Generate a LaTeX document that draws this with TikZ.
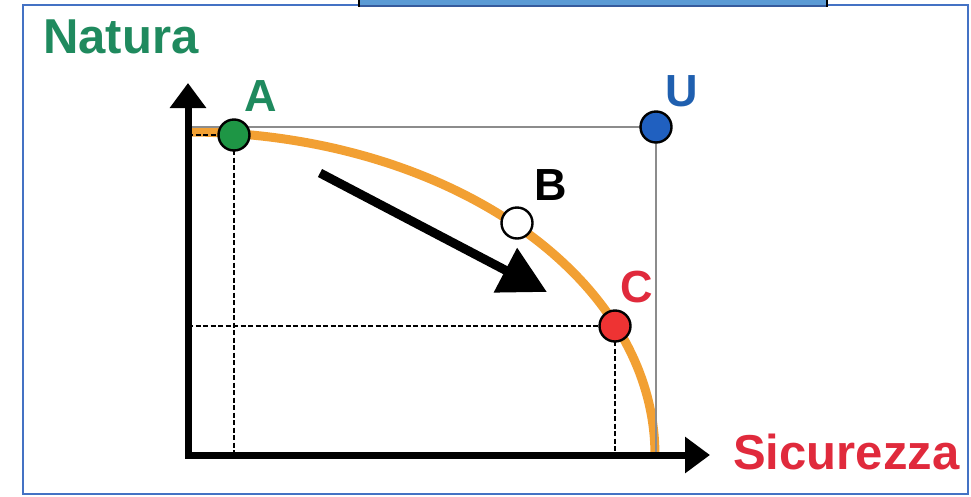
\documentclass[tikz,border=0pt]{standalone}
\usepackage{fontspec}
\setmainfont{Liberation Sans}
\usetikzlibrary{arrows.meta}
\definecolor{frameblue}{HTML}{4472C4}
\definecolor{tabblue}{HTML}{5B9BD5}
\definecolor{natgreen}{HTML}{1F8A5E}
\definecolor{dotgreen}{HTML}{1E9645}
\definecolor{ublue}{HTML}{1F5FAF}
\definecolor{dotblue}{HTML}{2060C0}
\definecolor{sicred}{HTML}{E02A3C}
\definecolor{dotred}{HTML}{EE3333}
\definecolor{curveorange}{HTML}{F2A033}
\definecolor{guidegray}{HTML}{8C8C8C}
\tikzset{
  dotnode/.style={circle, draw=black, line width=2.4pt, minimum size=31pt, inner sep=0pt},
  lbl/.style={font=\bfseries\fontsize{45}{54}\selectfont, inner sep=0pt},
  titletext/.style={font=\bfseries\fontsize{49}{58}\selectfont, inner sep=0pt, anchor=base west},
  axisline/.style={line width=7pt, -{Triangle[length=25pt,width=35pt]}},
  guideline/.style={draw=guidegray, line width=2.4pt},
  dashline/.style={line width=2.4pt, dash pattern=on 5pt off 2.5pt},
}
\begin{document}
\begin{tikzpicture}[x=1pt,y=-1pt]
\useasboundingbox (0,0) rectangle (971,496);
% frame
\draw[frameblue, line width=2pt] (23,5) rectangle (968,494);
\fill[tabblue] (359,0) rectangle (827,6);
\draw[frameblue!80!black, line width=1.2pt] (359,6) -- (827,6);
\draw[black, line width=1.6pt] (359,0) -- (359,7) (827,0) -- (827,7);
% coordinates
\coordinate (O) at (188,455);
\coordinate (yTip) at (188,83);
\coordinate (xTip) at (710,455);
\coordinate (yStart) at (188,458);
\coordinate (xStart) at (185,455);
\coordinate (pA) at (234,135);
\coordinate (pU) at (656,127);
\coordinate (pB) at (517,223);
\coordinate (pC) at (615,326);
\coordinate (arrS) at (320,173);
\coordinate (arrE) at (547,292);
% orange curve
\draw[curveorange, line width=9pt] plot[domain=90:0, samples=80] ({188+467*cos(\x)}, {455-323*sin(\x)});
% gray guide lines
\draw[guideline] (O |- pU) -- (pU) -- (pU |- O);
% dashed guide lines
\draw[dashline] (O |- pA) -- (pA);
\draw[dashline] (pA) -- (pA |- O);
\draw[dashline] (O |- pC) -- (pC);
\draw[dashline] (pC) -- (pC |- O);
% axes
\draw[axisline] (yStart) -- (yTip);
\draw[axisline] (xStart) -- (xTip);
% movement arrow
\draw[line width=9pt, -{Triangle[length=47pt,width=48pt]}] (arrS) -- (arrE);
% points
\node[dotnode, fill=dotgreen] (A) at (pA) {};
\node[dotnode, fill=dotblue] (U) at (pU) {};
\node[dotnode, fill=white] (B) at (pB) {};
\node[dotnode, fill=dotred] (C) at (pC) {};
% labels
\node[lbl, text=natgreen] (labA) at (261,96) {A};
\node[lbl, text=ublue] (labU) at (682,91) {U};
\node[lbl, text=black] (labB) at (551,185) {B};
\node[lbl, text=sicred] (labC) at (637,287) {C};
\node[titletext, text=natgreen] (natura) at (43,53) {Natura};
\node[titletext, text=sicred] (sicurezza) at (733,469) {Sicurezza};
\end{tikzpicture}
\end{document}
